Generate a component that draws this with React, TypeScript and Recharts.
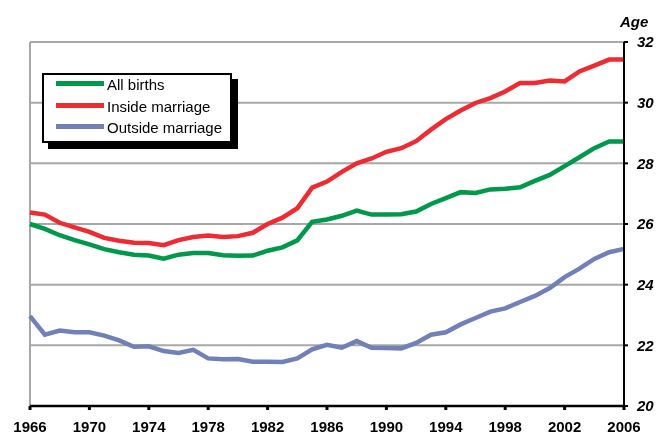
import React from 'react';
import { LineChart, Line, XAxis, YAxis, CartesianGrid, ReferenceLine } from 'recharts';

const years = [
  1966, 1967, 1968, 1969, 1970, 1971, 1972, 1973, 1974, 1975,
  1976, 1977, 1978, 1979, 1980, 1981, 1982, 1983, 1984, 1985,
  1986, 1987, 1988, 1989, 1990, 1991, 1992, 1993, 1994, 1995,
  1996, 1997, 1998, 1999, 2000, 2001, 2002, 2003, 2004, 2005,
  2006,
];

const allBirths = [
  26.0, 25.84, 25.63, 25.47, 25.33, 25.17, 25.07, 24.99, 24.96, 24.86,
  24.99, 25.04, 25.04, 24.97, 24.95, 24.96, 25.12, 25.23, 25.46, 26.07,
  26.15, 26.27, 26.44, 26.31, 26.31, 26.32, 26.41, 26.66, 26.85, 27.05,
  27.02, 27.14, 27.16, 27.21, 27.42, 27.62, 27.91, 28.2, 28.5, 28.72,
  28.72,
];

const insideMarriage = [
  26.38, 26.31, 26.04, 25.89, 25.74, 25.54, 25.45, 25.38, 25.37, 25.3,
  25.47, 25.57, 25.62, 25.57, 25.6, 25.71, 26.0, 26.21, 26.52, 27.2,
  27.4, 27.72, 28.0, 28.16, 28.38, 28.5, 28.73, 29.11, 29.46, 29.74,
  29.99, 30.15, 30.37, 30.65, 30.65, 30.73, 30.7, 31.03, 31.22, 31.42,
  31.42,
];

const outsideMarriage = [
  22.96, 22.35, 22.49, 22.43, 22.43, 22.32, 22.16, 21.95, 21.97, 21.81,
  21.75, 21.85, 21.57, 21.54, 21.55, 21.46, 21.46, 21.45, 21.57, 21.87,
  22.02, 21.92, 22.14, 21.92, 21.91, 21.9, 22.08, 22.35, 22.43, 22.69,
  22.9, 23.11, 23.22, 23.43, 23.63, 23.89, 24.25, 24.53, 24.85, 25.07,
  25.18,
];

const xTicks = [1966, 1970, 1974, 1978, 1982, 1986, 1990, 1994, 1998, 2002, 2006];
const yTicks = [20, 22, 24, 26, 28, 30, 32];

const series = [
  { key: 'all', name: 'All births', color: '#00984A' },
  { key: 'inside', name: 'Inside marriage', color: '#EE2A33' },
  { key: 'outside', name: 'Outside marriage', color: '#7180B9' },
];

const data = years.map((year, i) => ({
  year,
  all: allBirths[i],
  inside: insideMarriage[i],
  outside: outsideMarriage[i],
}));

const FONT = '"Liberation Sans", Arial, Helvetica, sans-serif';
const GRID = '#a8a8a8';

export default function App() {
  return (
    <div style={{ position: 'fixed', left: 8, top: 8, width: 648, height: 428, fontFamily: FONT }}>
      <LineChart
        width={648}
        height={428}
        data={data}
        margin={{ top: 34, right: 0, left: 22, bottom: 4 }}
      >
        <CartesianGrid vertical={false} stroke={GRID} strokeWidth={2} />
        <ReferenceLine x={1966} stroke={GRID} strokeWidth={2} />
        <XAxis
          dataKey="year"
          type="number"
          domain={[1966, 2006]}
          ticks={xTicks}
          interval={0}
          height={26}
          axisLine={{ stroke: '#000', strokeWidth: 2.5 }}
          tickLine={{ stroke: '#000', strokeWidth: 3 }}
          tickSize={4}
          tickMargin={11}
          tick={{ fill: '#000', fontSize: 15, fontWeight: 'bold', fontFamily: FONT }}
        />
        <YAxis
          orientation="right"
          domain={[20, 32]}
          ticks={yTicks}
          interval={0}
          width={32}
          axisLine={{ stroke: '#000', strokeWidth: 2 }}
          tickLine={{ stroke: '#000', strokeWidth: 2 }}
          tickSize={4}
          tickMargin={9}
          tick={{ fill: '#000', fontSize: 15, fontWeight: 'bold', fontStyle: 'italic', fontFamily: FONT }}
        />
        <Line dataKey="outside" name="Outside marriage" stroke="#7180B9" strokeWidth={4.5} dot={false} isAnimationActive={false} type="linear" />
        <Line dataKey="all" name="All births" stroke="#00984A" strokeWidth={4.5} dot={false} isAnimationActive={false} type="linear" />
        <Line dataKey="inside" name="Inside marriage" stroke="#EE2A33" strokeWidth={4.5} dot={false} isAnimationActive={false} type="linear" />
      </LineChart>

      <div
        style={{
          position: 'absolute',
          left: 612,
          top: 6,
          fontSize: 15,
          lineHeight: '15px',
          fontWeight: 'bold',
          fontStyle: 'italic',
          color: '#000',
        }}
      >
        Age
      </div>

      <div
        style={{
          position: 'absolute',
          left: 34,
          top: 65,
          width: 186,
          height: 66,
          border: '2px solid #000',
          background: '#fff',
          boxShadow: '6px 6px 0 #000',
        }}
      >
        {series.map((s, i) => (
          <div
            key={s.key}
            style={{
              position: 'absolute',
              left: 12,
              top: -1 + i * 21.5,
              height: 21.5,
              display: 'flex',
              alignItems: 'center',
              whiteSpace: 'nowrap',
            }}
          >
            <div style={{ width: 48, height: 5, background: s.color, marginRight: 3, marginTop: -2 }} />
            <span style={{ fontSize: 15, color: '#000', lineHeight: '21.5px' }}>{s.name}</span>
          </div>
        ))}
      </div>
    </div>
  );
}
